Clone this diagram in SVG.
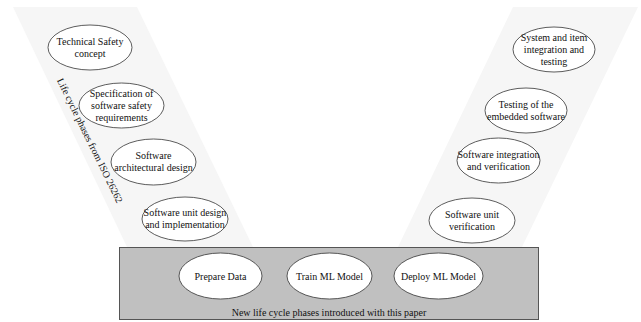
<svg xmlns="http://www.w3.org/2000/svg" width="641" height="322" viewBox="0 0 641 322">
<style>
.band{fill:#f6f6f6;stroke:none}
.box{fill:#c0c0c0;stroke:#555;stroke-width:1}
.node ellipse{fill:#fff;stroke:#333;stroke-width:0.8}
.t{font-family:'Liberation Serif','Times New Roman','DejaVu Serif',serif;font-size:10px;fill:#111;text-anchor:middle}
</style>
<rect width="641" height="322" fill="#fff"/>
<polygon class="band" points="13,7 137,7 253,247 127,247"/>
<polygon class="band" points="513,7 638,7 522,247 398,247"/>
<g class="t">
<text transform="translate(89,141) rotate(64)" dominant-baseline="middle">Life cycle phases from ISO 26262</text>
</g>
<rect class="box" x="119.5" y="247.5" width="419" height="72"/>
<g class="t">
<text x="329" y="316">New life cycle phases introduced with this paper</text>
<g id="tsc" class="node"><ellipse cx="90" cy="47.5" rx="42" ry="22.5"/><text x="90" y="45">Technical Safety</text><text x="90" y="57">concept</text></g>
<g id="sssr" class="node"><ellipse cx="121.5" cy="105.5" rx="42.5" ry="22.5"/><text x="121.5" y="97">Specification of</text><text x="121.5" y="109">software safety</text><text x="121.5" y="121">requirements</text></g>
<g id="sad" class="node"><ellipse cx="153.5" cy="162" rx="42.5" ry="23"/><text x="153.5" y="159">Software</text><text x="153.5" y="171">architectural design</text></g>
<g id="sudi" class="node"><ellipse cx="185" cy="219" rx="43" ry="22"/><text x="185" y="216">Software unit design</text><text x="185" y="228">and implementation</text></g>
<g id="siit" class="node"><ellipse cx="554" cy="49.5" rx="41" ry="22.5"/><text x="554" y="41">System and item</text><text x="554" y="53">integration and</text><text x="554" y="65">testing</text></g>
<g id="tes" class="node"><ellipse cx="526" cy="110.5" rx="41" ry="22.5"/><text x="526" y="107.5">Testing of the</text><text x="526" y="119.5">embedded software</text></g>
<g id="siv" class="node"><ellipse cx="498.5" cy="160.5" rx="41.5" ry="22.5"/><text x="498.5" y="157.5">Software integration</text><text x="498.5" y="169.5">and verification</text></g>
<g id="suv" class="node"><ellipse cx="472" cy="220.5" rx="43" ry="22.5"/><text x="472" y="217.5">Software unit</text><text x="472" y="229.5">verification</text></g>
<g id="pd" class="node"><ellipse cx="220.5" cy="276" rx="41.5" ry="23"/><text x="220.5" y="279.5">Prepare Data</text></g>
<g id="tml" class="node"><ellipse cx="329.5" cy="276" rx="42.5" ry="23"/><text x="329.5" y="279.5">Train ML Model</text></g>
<g id="dml" class="node"><ellipse cx="438.5" cy="276" rx="44.5" ry="23"/><text x="438.5" y="279.5">Deploy ML Model</text></g>
</g>
<g id="connectors"/>
</svg>
